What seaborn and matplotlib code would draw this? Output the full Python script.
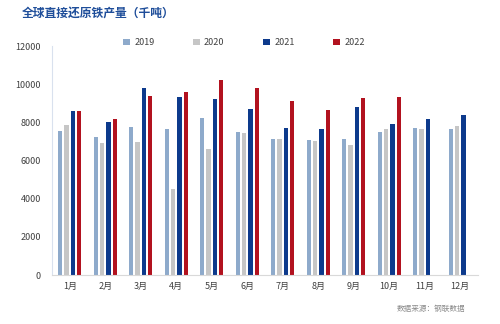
import numpy as np
import pandas as pd
import matplotlib
matplotlib.use("Agg")
import matplotlib.pyplot as plt
import seaborn as sns
from matplotlib.patches import Patch

months = ["1月", "2月", "3月", "4月", "5月", "6月", "7月", "8月", "9月", "10月", "11月", "12月"]
years = ["2019", "2020", "2021", "2022"]
v2019 = [7540, 7250, 7770, 7670, 8250, 7510, 7140, 7090, 7140, 7470, 7720, 7650]
v2020 = [7860, 6910, 6980, 4500, 6600, 7420, 7140, 7000, 6840, 7670, 7650, 7820]
v2021 = [8600, 8020, 9820, 9350, 9250, 8700, 7720, 7670, 8790, 7890, 8160, 8400]
v2022 = [8600, 8160, 9390, 9580, 10230, 9790, 9100, 8630, 9260, 9350, np.nan, np.nan]
colors = ["#8eaacb", "#c6c6c6", "#0d3a8c", "#b2121f"]

rows = []
for y, vals in zip(years, [v2019, v2020, v2021, v2022]):
    for m, v in zip(months, vals):
        rows.append({"month": m, "year": y, "value": v})
df = pd.DataFrame(rows)

sns.set_theme(style="white")
plt.rcParams['font.family'] = ['Noto Sans CJK SC', 'DejaVu Sans']

fig = plt.figure(figsize=(5, 3.24), dpi=100)
ax = fig.add_axes([0.104, 0.151, 0.852, 0.707])
sns.barplot(data=df, x="month", y="value", hue="year", order=months, hue_order=years,
            palette=colors, width=0.72, gap=0.35, ax=ax, legend=False, errorbar=None,
            linewidth=0, edgecolor="none", saturation=1)

ax.set_ylim(0, 12000)
ax.set_yticks(range(0, 12001, 2000))
ax.set_xlabel("")
ax.set_ylabel("")
ax.tick_params(axis='both', length=0, labelsize=6.5, colors="#404040")
ax.tick_params(axis='x', pad=5)
ax.tick_params(axis='y', pad=8)
for s in ["top", "right"]:
    ax.spines[s].set_visible(False)
ax.spines["left"].set_color("#d9e1ee")
ax.spines["left"].set_linewidth(0.8)
ax.spines["bottom"].set_color("#d9d9d9")
ax.spines["bottom"].set_linewidth(0.8)
ax.set_xlim(-0.5, 11.5)

handles = [Patch(facecolor=c, edgecolor="none") for c in colors]
fig.legend(handles, years, loc="center", bbox_to_anchor=(0.488, 0.868), ncol=4,
           frameon=False, fontsize=6.5, handlelength=0.7, handleheight=0.7,
           columnspacing=4.3, handletextpad=0.5, labelcolor="#404040")

fig.text(0.044, 0.955, "全球直接还原铁产量（千吨）", fontsize=8.5, fontweight="bold",
         color="#1f4e9a", ha="left", va="center")
fig.text(0.93, 0.045, "数据来源：钢联数据", fontsize=5.5, color="#8a8a8a", ha="right", va="center")

fig.savefig("out.png", dpi=100)
